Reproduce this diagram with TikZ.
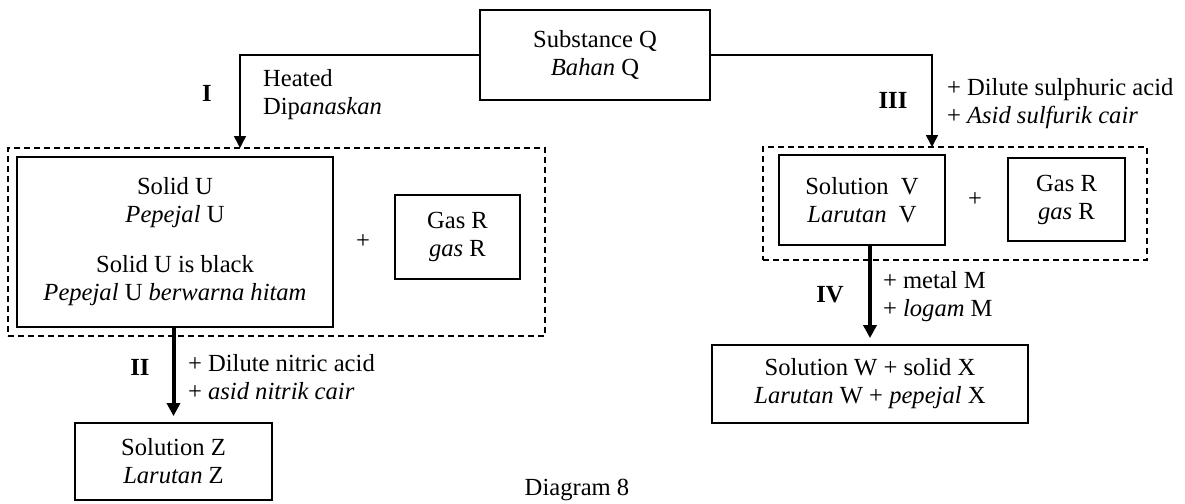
\documentclass[tikz,border=0pt]{standalone}
\usepackage{fontspec}
\setmainfont{Liberation Serif}
\usetikzlibrary{arrows.meta,positioning}

\begin{document}
\begin{tikzpicture}[x=.5pt,y=-.5pt,
    every node/.append style={font=\fontsize{12.3}{14}\selectfont},
    box/.style={draw,line width=.9pt,inner sep=0pt,align=center},
    grp/.style={draw,dash pattern=on 3pt off 2pt,line width=.8pt,inner sep=0pt},
    lightarr/.style={line width=.8pt,-{Triangle[length=6pt,width=6pt]}},
    heavyarr/.style={line width=2pt,-{Triangle[length=6.5pt,width=6.5pt]},shorten >=3pt},
    num/.style={execute at begin node=\bfseries},
    lab/.style={align=left,anchor=west}]
  \useasboundingbox (0,0) rectangle (1185,504);
  % boxes
  \node[box,minimum width=115pt,minimum height=45pt] (Q) at (595,55) {Substance Q\\\textit{Bahan} Q};
  \node[grp,minimum width=268.5pt,minimum height=94pt] (grpL) at (276.5,242) {};
  \node[box,minimum width=158pt,minimum height=85pt] (U) at (175,242)
    {Solid U\\\textit{Pepejal} U\\[11pt]Solid U is black\\\textit{Pepejal} U \textit{berwarna hitam}};
  \node (plusL) at (363,242) {+};
  \node[box,minimum width=62.5pt,minimum height=42pt] (gasL) at (457.5,237) {Gas R\\\textit{gas} R};
  \node[grp,minimum width=192pt,minimum height=56.5pt] (grpR) at (955,203.5) {};
  \node[box,minimum width=83pt,minimum height=45pt] (V) at (862,200) {Solution\ \ V\\\textit{Larutan}\ \ V};
  \node (plusR) at (975,200) {+};
  \node[box,minimum width=58.5pt,minimum height=41.5pt] (gasR) at (1066.5,199.5) {Gas R\\\textit{gas} R};
  \node[box,minimum width=98.5pt,minimum height=38.5pt] (Z) at (173.5,461.5) {Solution Z\\\textit{Larutan} Z};
  \node[box,minimum width=158pt,minimum height=39pt] (W) at (870,384) {Solution W + solid X\\\textit{Larutan} W + \textit{pepejal} X};
  % arrows
  \coordinate (inL) at (240,148);
  \coordinate (inR) at (932,147);
  \draw[lightarr] (Q.west) -| (inL);
  \draw[lightarr] (Q.east) -| (inR);
  \draw[heavyarr] (U.south -| Z.north) -- (Z.north);
  \draw[heavyarr] (V.south -| W.north) -- (W.north);
  % labels
  \node[num] (stI) at (207,93) {I};
  \node[lab] (cndI) at (256,95) {Heated\\Dip\textit{anaskan}};
  \node[num] (stII) at (140,367) {II};
  \node[lab] (cndII) at (181,377) {+ Dilute nitric acid\\+ \textit{asid nitrik cair}};
  \node[num] (stIII) at (893,100) {III};
  \node[lab] (cndIII) at (940,104) {+ Dilute sulphuric acid\\+ \textit{Asid sulfurik cair}};
  \node[num] (stIV) at (830,295) {IV};
  \node[lab] (cndIV) at (876,297) {+ metal M\\+ \textit{logam} M};
  \node (cap) at (577,490) {Diagram 8};
\end{tikzpicture}
\end{document}
